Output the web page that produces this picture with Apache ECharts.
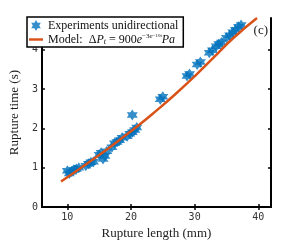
<!DOCTYPE html>
<html>
<head>
<meta charset="utf-8">
<script src="https://cdn.jsdelivr.net/npm/echarts@6/dist/echarts.min.js"></script>
<style>html,body{margin:0;padding:0;background:#fff;}#c{width:300px;height:245px;}</style>
</head>
<body>
<div id="c"></div>
<script>
// Experimental points (rupture length mm, rupture time s)
var expLength = [10.0,10.3,10.6,11.0,11.4,11.8,12.9,13.3,13.7,14.1,15.0,15.3,15.6,15.9,16.2,
  17.0,17.4,17.8,18.2,18.6,19.4,19.8,20.2,20.6,20.9,20.2,24.6,25.0,28.8,29.2,30.4,30.9,
  32.3,32.8,33.4,33.8,34.2,35.0,35.5,36.0,36.4,36.9,37.3];
var expTime = [0.92,0.85,0.90,0.95,0.97,1.00,1.05,1.10,1.14,1.15,1.33,1.38,1.22,1.30,1.42,
  1.52,1.62,1.65,1.70,1.76,1.80,1.86,1.90,1.96,2.02,2.34,2.74,2.80,3.33,3.38,3.62,3.68,
  3.92,3.98,4.08,4.14,4.18,4.30,4.36,4.44,4.50,4.58,4.62];
// Model curve
var modelLength = [9,12,15,18,21,24,27,30,33,36,39.8];
var modelTime = [0.65,0.98,1.32,1.68,2.05,2.45,2.87,3.32,3.80,4.28,4.80];
var xTicks = [10,20,30,40];
var yTicks = [0,1,2,3,4];

var star = 'path://M10,0 L12.89,5 L18.66,5 L15.77,10 L18.66,15 L12.89,15 L10,20 L7.11,15 L1.34,15 L4.23,10 L1.34,5 L7.11,5 Z';
var bar = 'path://M0,0 L20,0 L20,3.5 L0,3.5 Z';
var serif = '"Liberation Serif","DejaVu Serif",serif';

var chart = echarts.init(document.getElementById('c'));
function pairs(a,b){var r=[];for(var i=0;i<a.length;i++)r.push([a[i],b[i]]);return r;}
var axisLine = {show:true, lineStyle:{color:'#000', width:2}};
chart.setOption({
  animation:false,
  grid:{left:28, right:29, top:18, bottom:34},
  xAxis:[{
    type:'value', min:6, max:42, position:'bottom',
    axisLine:axisLine,
    axisTick:{show:true, inside:true, length:3, customValues:xTicks, lineStyle:{color:'#000',width:1.5}},
    axisLabel:{customValues:xTicks, color:'#333', fontFamily:'"DejaVu Sans Mono",monospace', fontSize:10, margin:5},
    splitLine:{show:false},
    name:'Rupture length (mm)', nameLocation:'middle', nameGap:19,
    nameTextStyle:{color:'#222', fontFamily:serif, fontSize:13}
  },{
    type:'value', min:6, max:42, position:'top',
    axisLine:axisLine,
    axisTick:{show:true, inside:true, length:3, customValues:xTicks, lineStyle:{color:'#000',width:1.5}},
    axisLabel:{show:false}, splitLine:{show:false}
  }],
  yAxis:[{
    type:'value', min:0, max:4.8, position:'left',
    axisLine:axisLine,
    axisTick:{show:true, inside:true, length:3, customValues:yTicks, lineStyle:{color:'#000',width:1.5}},
    axisLabel:{customValues:yTicks, color:'#333', fontFamily:'"DejaVu Sans Mono",monospace', fontSize:10, margin:4},
    splitLine:{show:false},
    name:'Rupture time (s)', nameLocation:'middle', nameGap:15, nameRotate:90,
    nameTextStyle:{color:'#222', fontFamily:serif, fontSize:13}
  },{
    type:'value', min:0, max:4.8, position:'right',
    axisLine:axisLine,
    axisTick:{show:true, inside:true, length:3, customValues:yTicks, lineStyle:{color:'#000',width:1.5}},
    axisLabel:{show:false}, splitLine:{show:false}
  }],
  legend:{
    left:27, top:17, orient:'vertical', itemGap:1, padding:[2,5,1,2],
    borderColor:'#000', borderWidth:1.5, backgroundColor:'#fff',
    itemWidth:14, itemHeight:11, symbolKeepAspect:true,
    data:[{name:'exp', icon:star},{name:'model', icon:bar}],
    formatter:function(n){
      if(n==='exp') return 'Experiments unidirectional';
      return 'Model:  Δ{i|P}{sub|t} = 900{i|e}{sup|−3}{supi|e}{sup2|−10t}{i|Pa}';
    },
    textStyle:{
      color:'#111', fontFamily:serif, fontSize:12, lineHeight:13,
      rich:{
        i:{fontStyle:'italic', fontFamily:serif, fontSize:12, lineHeight:13, color:'#111'},
        sub:{fontStyle:'italic', fontFamily:serif, fontSize:8, lineHeight:13, verticalAlign:'bottom', color:'#111'},
        sup:{fontFamily:serif, fontSize:7, lineHeight:13, verticalAlign:'top', color:'#111'},
        supi:{fontStyle:'italic', fontFamily:serif, fontSize:7, lineHeight:13, verticalAlign:'top', color:'#111'},
        sup2:{fontFamily:serif, fontSize:5, lineHeight:13, verticalAlign:'top', color:'#111'}
      }
    }
  },
  graphic:[{type:'text', right:32, top:24, style:{text:'(c)', font:'13px '+serif, fill:'#222'}}],
  series:[{
    name:'exp', type:'scatter', data:pairs(expLength,expTime),
    symbol:star, symbolSize:11, itemStyle:{color:'#0072BD'}, z:2
  },{
    name:'model', type:'line', data:pairs(modelLength,modelTime), smooth:true,
    symbol:'none', lineStyle:{color:'#D95319', width:2.5}, itemStyle:{color:'#D95319'}, z:3
  }]
});
</script>
</body>
</html>
